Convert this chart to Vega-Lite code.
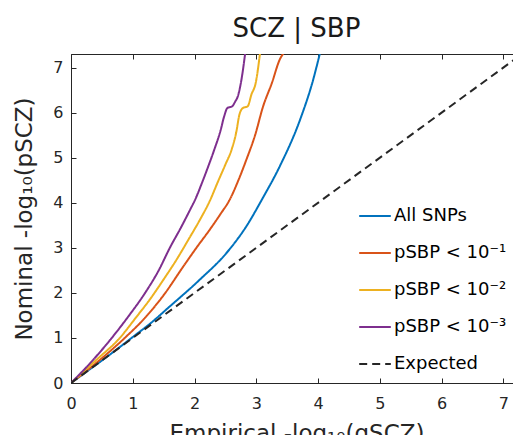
{
  "$schema": "https://vega.github.io/schema/vega-lite/v6.json",
  "autosize": {"type": "none"},
  "padding": {"left": 71, "top": 54, "right": 0, "bottom": 52},
  "width": 451,
  "height": 329,
  "config": {
    "font": "DejaVu Sans",
    "view": {"stroke": "#262626", "strokeWidth": 1},
    "axis": {"grid": false, "domainColor": "#262626", "tickColor": "#262626", "labelColor": "#262626", "titleColor": "#262626", "labelFontSize": 16, "titleFontSize": 23, "titleFontWeight": "normal", "tickSize": -5, "labelFlush": false}
  },
  "title": {"text": "SCZ | SBP", "fontSize": 26, "fontWeight": "normal", "color": "#1a1a1a", "offset": 12, "anchor": "middle"},
  "data": {"values": [
    {"s": "All SNPs", "x": 0, "y": 0},
    {"s": "All SNPs", "x": 0.3, "y": 0.3},
    {"s": "All SNPs", "x": 0.6, "y": 0.6},
    {"s": "All SNPs", "x": 1.0, "y": 1.02},
    {"s": "All SNPs", "x": 1.3, "y": 1.34},
    {"s": "All SNPs", "x": 1.575, "y": 1.67},
    {"s": "All SNPs", "x": 2.09, "y": 2.3},
    {"s": "All SNPs", "x": 2.52, "y": 2.89},
    {"s": "All SNPs", "x": 2.84, "y": 3.48},
    {"s": "All SNPs", "x": 3.09, "y": 4.07},
    {"s": "All SNPs", "x": 3.38, "y": 4.81},
    {"s": "All SNPs", "x": 3.71, "y": 5.85},
    {"s": "All SNPs", "x": 3.92, "y": 6.73},
    {"s": "All SNPs", "x": 4.03, "y": 7.32},
    {"s": "pSBP < 10⁻¹", "x": 0, "y": 0},
    {"s": "pSBP < 10⁻¹", "x": 0.5, "y": 0.55},
    {"s": "pSBP < 10⁻¹", "x": 0.87, "y": 1.0},
    {"s": "pSBP < 10⁻¹", "x": 1.2, "y": 1.45},
    {"s": "pSBP < 10⁻¹", "x": 1.5, "y": 1.95},
    {"s": "pSBP < 10⁻¹", "x": 1.82, "y": 2.59},
    {"s": "pSBP < 10⁻¹", "x": 2.03, "y": 3.0},
    {"s": "pSBP < 10⁻¹", "x": 2.25, "y": 3.41},
    {"s": "pSBP < 10⁻¹", "x": 2.42, "y": 3.75},
    {"s": "pSBP < 10⁻¹", "x": 2.57, "y": 4.07},
    {"s": "pSBP < 10⁻¹", "x": 2.71, "y": 4.5},
    {"s": "pSBP < 10⁻¹", "x": 2.84, "y": 4.96},
    {"s": "pSBP < 10⁻¹", "x": 2.98, "y": 5.5},
    {"s": "pSBP < 10⁻¹", "x": 3.11, "y": 6.14},
    {"s": "pSBP < 10⁻¹", "x": 3.25, "y": 6.65},
    {"s": "pSBP < 10⁻¹", "x": 3.38, "y": 7.18},
    {"s": "pSBP < 10⁻¹", "x": 3.44, "y": 7.32},
    {"s": "pSBP < 10⁻²", "x": 0, "y": 0},
    {"s": "pSBP < 10⁻²", "x": 0.4, "y": 0.5},
    {"s": "pSBP < 10⁻²", "x": 0.79, "y": 1.0},
    {"s": "pSBP < 10⁻²", "x": 1.05, "y": 1.45},
    {"s": "pSBP < 10⁻²", "x": 1.28, "y": 1.86},
    {"s": "pSBP < 10⁻²", "x": 1.5, "y": 2.3},
    {"s": "pSBP < 10⁻²", "x": 1.71, "y": 2.74},
    {"s": "pSBP < 10⁻²", "x": 1.9, "y": 3.18},
    {"s": "pSBP < 10⁻²", "x": 2.09, "y": 3.63},
    {"s": "pSBP < 10⁻²", "x": 2.25, "y": 4.05},
    {"s": "pSBP < 10⁻²", "x": 2.37, "y": 4.44},
    {"s": "pSBP < 10⁻²", "x": 2.5, "y": 4.85},
    {"s": "pSBP < 10⁻²", "x": 2.6, "y": 5.18},
    {"s": "pSBP < 10⁻²", "x": 2.68, "y": 5.6},
    {"s": "pSBP < 10⁻²", "x": 2.72, "y": 5.92},
    {"s": "pSBP < 10⁻²", "x": 2.78, "y": 6.1},
    {"s": "pSBP < 10⁻²", "x": 2.86, "y": 6.14},
    {"s": "pSBP < 10⁻²", "x": 2.92, "y": 6.4},
    {"s": "pSBP < 10⁻²", "x": 2.99, "y": 6.66},
    {"s": "pSBP < 10⁻²", "x": 3.06, "y": 7.32},
    {"s": "pSBP < 10⁻³", "x": 0, "y": 0},
    {"s": "pSBP < 10⁻³", "x": 0.35, "y": 0.5},
    {"s": "pSBP < 10⁻³", "x": 0.66, "y": 1.0},
    {"s": "pSBP < 10⁻³", "x": 0.93, "y": 1.48},
    {"s": "pSBP < 10⁻³", "x": 1.2, "y": 2.0},
    {"s": "pSBP < 10⁻³", "x": 1.42, "y": 2.5},
    {"s": "pSBP < 10⁻³", "x": 1.6, "y": 3.0},
    {"s": "pSBP < 10⁻³", "x": 1.78, "y": 3.45},
    {"s": "pSBP < 10⁻³", "x": 1.93, "y": 3.85},
    {"s": "pSBP < 10⁻³", "x": 2.01, "y": 4.07},
    {"s": "pSBP < 10⁻³", "x": 2.12, "y": 4.44},
    {"s": "pSBP < 10⁻³", "x": 2.22, "y": 4.8},
    {"s": "pSBP < 10⁻³", "x": 2.32, "y": 5.18},
    {"s": "pSBP < 10⁻³", "x": 2.42, "y": 5.6},
    {"s": "pSBP < 10⁻³", "x": 2.48, "y": 5.92},
    {"s": "pSBP < 10⁻³", "x": 2.53, "y": 6.1},
    {"s": "pSBP < 10⁻³", "x": 2.61, "y": 6.14},
    {"s": "pSBP < 10⁻³", "x": 2.66, "y": 6.25},
    {"s": "pSBP < 10⁻³", "x": 2.7, "y": 6.36},
    {"s": "pSBP < 10⁻³", "x": 2.75, "y": 6.66},
    {"s": "pSBP < 10⁻³", "x": 2.82, "y": 7.32},
    {"s": "Expected", "x": 0, "y": 0},
    {"s": "Expected", "x": 7.5, "y": 7.5}
  ]},
  "layer": [
    {
      "mark": {"type": "line", "strokeWidth": 2, "clip": true, "interpolate": "monotone"},
      "encoding": {
        "x": {"field": "x", "type": "quantitative", "scale": {"domain": [0, 7.3], "nice": false},
              "axis": {"values": [0,1,2,3,4,5,6,7], "title": "Empirical -log₁₀(qSCZ)", "labelPadding": 17, "titlePadding": 11}},
        "y": {"field": "y", "type": "quantitative", "scale": {"domain": [0, 7.3], "nice": false},
              "axis": {"values": [0,1,2,3,4,5,6,7], "title": "Nominal -log₁₀(pSCZ)", "labelPadding": 13, "titlePadding": 16}},
        "color": {"field": "s", "type": "nominal",
          "scale": {"domain": ["All SNPs", "pSBP < 10⁻¹", "pSBP < 10⁻²", "pSBP < 10⁻³", "Expected"],
                    "range": ["#0072BD", "#D95319", "#EDB120", "#7E2F8E", "#262626"]},
          "legend": {"title": null, "orient": "none", "legendX": 287, "legendY": 145, "symbolType": "stroke", "symbolSize": 1000, "symbolStrokeWidth": 2, "labelFontSize": 18, "labelColor": "#000000", "rowPadding": 11, "labelOffset": 2, "symbolOpacity": 1}},
        "strokeDash": {"field": "s", "type": "nominal",
          "scale": {"domain": ["All SNPs", "pSBP < 10⁻¹", "pSBP < 10⁻²", "pSBP < 10⁻³", "Expected"],
                    "range": [[1,0],[1,0],[1,0],[1,0],[8,5]]},
          "legend": {"title": null, "orient": "none", "legendX": 287, "legendY": 145, "symbolType": "stroke", "symbolSize": 1000, "symbolStrokeWidth": 2, "labelFontSize": 18, "labelColor": "#000000", "rowPadding": 11, "labelOffset": 2}}
      }
    },
    {
      "mark": {"type": "rule", "opacity": 0},
      "encoding": {
        "x": {"datum": 0, "type": "quantitative", "axis": {"orient": "top", "values": [0,1,2,3,4,5,6,7], "labels": false, "title": null, "domain": false}}
      }
    }
  ],
  "resolve": {"axis": {"x": "independent"}}
}
